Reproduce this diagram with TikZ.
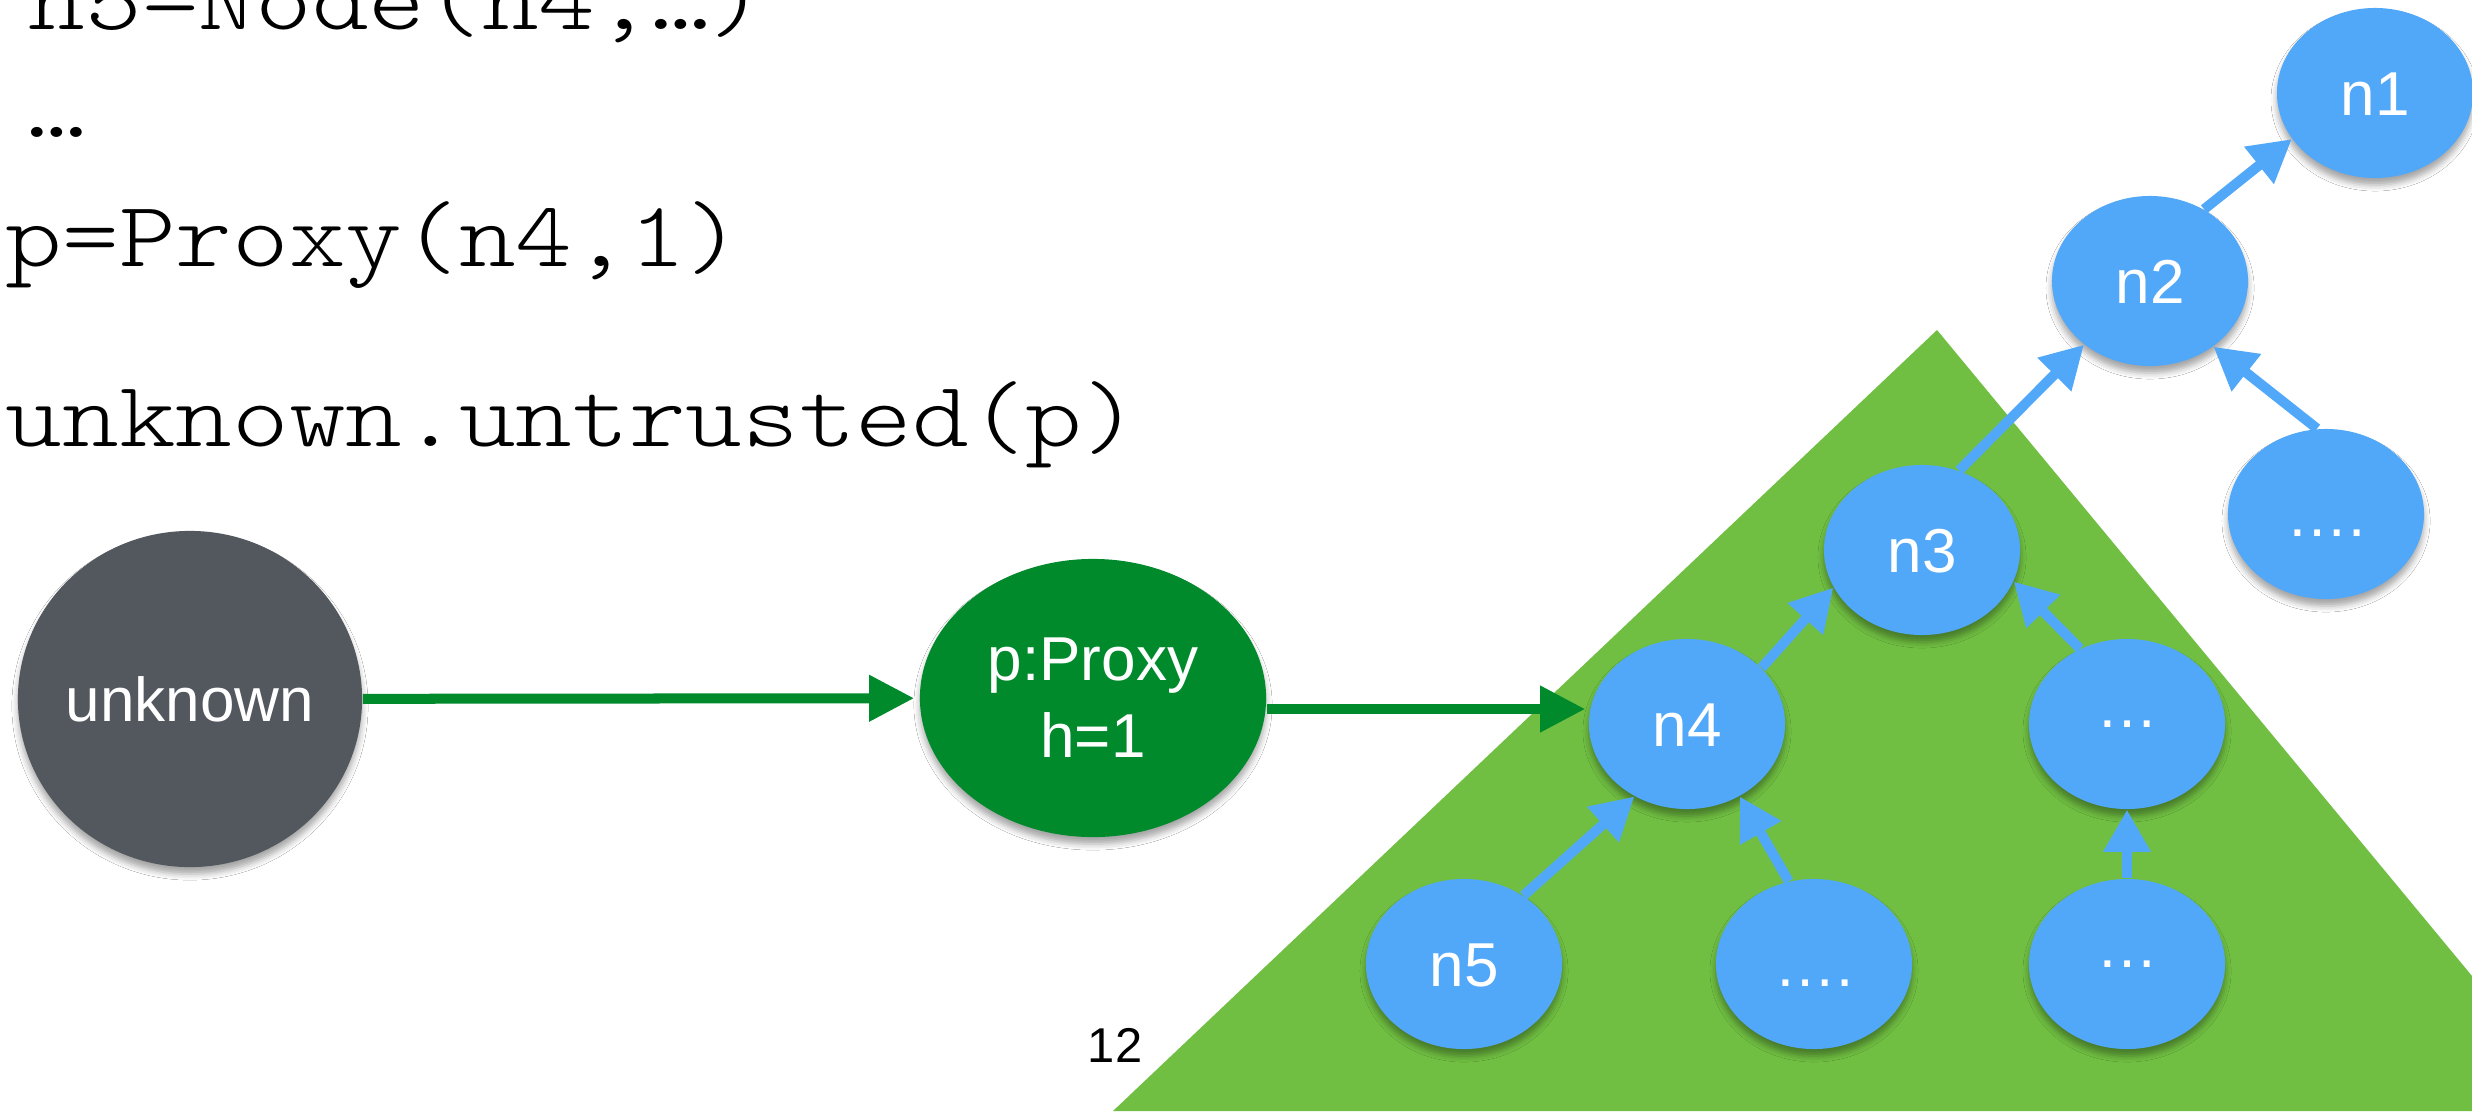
\documentclass[tikz,border=0pt]{standalone}
\usepackage{fontspec}
\setmainfont{Liberation Sans}
\newfontfamily\codefont[FakeStretch=1.16]{Latin Modern Mono Light}
\usetikzlibrary{arrows.meta,shapes.geometric,shadows.blur}

\definecolor{nodeblue}{HTML}{52A8F8}
\definecolor{treegreen}{HTML}{70BF42}
\definecolor{proxygreen}{HTML}{018A2C}
\definecolor{objgray}{HTML}{53575E}

\begin{document}
\begin{tikzpicture}[x=0.01cm,y=-0.01cm,
  softshadow/.style={blur shadow={shadow xshift=0cm,shadow yshift=-0.07cm,shadow blur radius=0.06cm,shadow opacity=35}},
  obj/.style={ellipse,inner sep=0pt,text=white,font=\fontsize{17.64pt}{21.9pt}\selectfont,softshadow},
  tnode/.style={obj,fill=nodeblue,minimum width=1.96cm,minimum height=1.70cm,text height=0.44cm,text depth=0cm},
  barrow/.style={draw=nodeblue,line width=0.1cm,-{Triangle[length=0.42cm,width=0.45cm]}},
  garrow/.style={draw=proxygreen,line width=0.1cm,-{Triangle[length=0.45cm,width=0.44cm]}},
  code/.style={anchor=base west,inner sep=0pt,font=\codefont\fontsize{26.46pt}{30pt}\selectfont},
]
\useasboundingbox (0,0) rectangle (2472,1111);
\clip (0,0) rectangle (2472,1111);
\fill[white] (0,0) rectangle (2472,1111);

% code listing
\node[code] (l1) at (28,29) {n5=Node(n4,…)};
\node[code] (l2) at (28,137) {…};
\node[code] (l3) at (5,266) {p=Proxy(n4,1)};
\node[code] (l4) at (5,446) {unknown.untrusted(p)};

% region reachable through the proxy
\fill[treegreen] (1937,330) -- (1113,1111) -- (2472,1111) -- (2472,976) -- cycle;

% objects
\node[obj,fill=objgray,minimum width=3.44cm,minimum height=3.36cm,inner xsep=-0.3cm] (unknown) at (190,699) {unknown};
\node[obj,fill=proxygreen,minimum width=3.46cm,minimum height=2.78cm,align=center] (proxy) at (1093,698) {p:Proxy\\h=1};

% linked nodes
\node[tnode] (n1) at (2375,93) {n1};
\node[tnode] (n2) at (2150,281) {n2};
\node[tnode] (r1) at (2326,514) {….};
\node[tnode] (n3) at (1922,550) {n3};
\node[tnode] (n4) at (1687,724) {n4};
\node[tnode] (m2) at (2127,724) {\raisebox{0.19cm}{…}};
\node[tnode] (n5) at (1464,964) {n5};
\node[tnode] (b2) at (1814,964) {….};
\node[tnode] (b3) at (2127,964) {\raisebox{0.19cm}{…}};

% parent links
\draw[barrow] (n2.53) -- (n1.209);
\draw[barrow] (r1.96) -- (n2.314);
\draw[barrow] (n3.65) -- (n2.224);
\draw[barrow] (n4.37) -- (n3.203);
\draw[barrow] (m2.122) -- (n3.341);
\draw[barrow] (n5.49) -- (n4.234);
\draw[barrow] (b2.107) -- (n4.306);
\draw[barrow] (b3.north) -- (m2.south);

% references
\draw[garrow,shorten >=0.05cm] (unknown) -- (proxy);
\coordinate (pout) at ([yshift=-0.11cm]proxy.east);
\draw[garrow,shorten >=0.03cm] (pout) -- (pout -| n4.west);

% page number
\node[inner sep=0pt,font=\fontsize{13.9pt}{16pt}\selectfont] (pg) at (1115,1045) {12};
\end{tikzpicture}
\end{document}
